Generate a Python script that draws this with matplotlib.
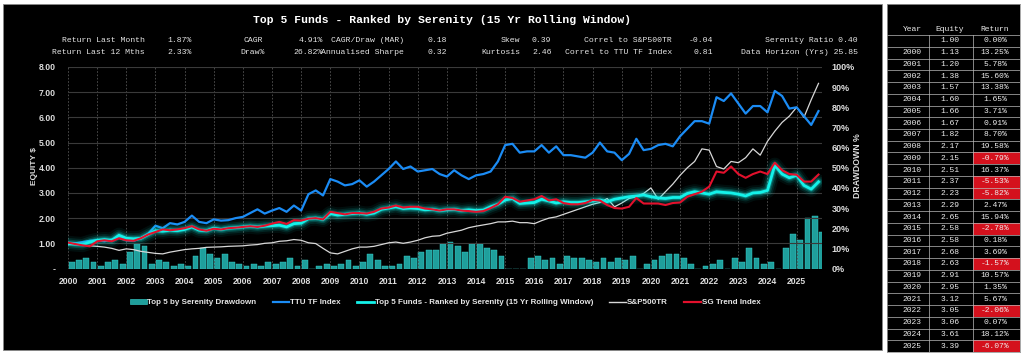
import numpy as np
import matplotlib
matplotlib.use("Agg")
import matplotlib.pyplot as plt
from matplotlib.patches import Rectangle, Patch
from matplotlib.lines import Line2D
from matplotlib.ticker import FixedLocator, FuncFormatter

# ---- chart data (quarterly readings, 2000.00 .. 2025.75) ----
t0 = 2000.0
ttu_tf = [
    1.02, 1.00, 1.05, 1.10,  1.12, 1.08, 1.15, 1.22,  1.12, 1.10, 1.20, 1.38,
    1.70, 1.60, 1.80, 1.75,  1.85, 2.10, 1.85, 1.80,  1.95, 1.90, 1.92, 2.00,
    2.05, 2.20, 2.35, 2.18,  2.30, 2.40, 2.25, 2.50,  2.30, 2.95, 3.10, 2.90,
    3.55, 3.45, 3.30, 3.35,  3.50, 3.25, 3.45, 3.70,  3.95, 4.25, 3.95, 4.05,
    3.85, 3.90, 3.95, 3.75,  3.65, 3.90, 3.70, 3.55,  3.70, 3.75, 3.85, 4.25,
    4.90, 4.95, 4.60, 4.65,  4.65, 4.90, 4.60, 4.85,  4.50, 4.50, 4.45, 4.40,
    4.60, 5.00, 4.65, 4.60,  4.30, 4.55, 5.15, 4.70,  4.75, 4.90, 4.95, 4.85,
    5.25, 5.55, 5.85, 5.85,  5.75, 6.80, 6.65, 6.95,  6.55, 6.15, 6.45, 6.45,
    6.20, 7.05, 6.85, 6.35,  6.40, 6.05, 5.70, 6.25,
]
top5 = [
    1.00, 0.97, 0.95, 1.05,  1.12, 1.15, 1.12, 1.32,  1.20, 1.18, 1.20, 1.35,
    1.50, 1.48, 1.52, 1.50,  1.55, 1.65, 1.52, 1.50,  1.60, 1.55, 1.60, 1.62,
    1.65, 1.68, 1.65, 1.68,  1.70, 1.72, 1.65, 1.78,  1.80, 1.98, 2.00, 1.95,
    2.18, 2.12, 2.15, 2.18,  2.20, 2.15, 2.20, 2.35,  2.40, 2.45, 2.38, 2.40,
    2.38, 2.33, 2.35, 2.30,  2.33, 2.35, 2.30, 2.33,  2.30, 2.32, 2.45, 2.55,
    2.72, 2.78, 2.58, 2.60,  2.62, 2.75, 2.68, 2.60,  2.65, 2.62, 2.62, 2.65,
    2.68, 2.72, 2.65, 2.75,  2.80, 2.85, 2.88, 2.92,  2.85, 2.80, 2.78, 2.82,
    2.82, 2.98, 3.05, 3.00,  2.95, 3.05, 3.02, 3.00,  2.95, 2.88, 3.00, 3.02,
    3.10, 4.10, 3.75, 3.60,  3.70, 3.30, 3.15, 3.44,
]
sg_trend = [
    1.03, 0.97, 0.92, 0.88,  1.08, 1.12, 1.08, 1.20,  1.12, 1.10, 1.20, 1.35,
    1.45, 1.55, 1.52, 1.55,  1.60, 1.68, 1.55, 1.50,  1.58, 1.55, 1.60, 1.62,
    1.65, 1.68, 1.65, 1.70,  1.78, 1.85, 1.77, 1.92,  1.90, 1.98, 2.00, 1.95,
    2.25, 2.20, 2.15, 2.20,  2.20, 2.18, 2.25, 2.38,  2.42, 2.50, 2.42, 2.45,
    2.45, 2.38, 2.35, 2.30,  2.35, 2.35, 2.30, 2.28,  2.25, 2.28, 2.40, 2.55,
    2.85, 2.80, 2.65, 2.70,  2.75, 2.88, 2.70, 2.75,  2.60, 2.55, 2.55, 2.60,
    2.72, 2.70, 2.52, 2.40,  2.38, 2.45, 2.80, 2.58,  2.58, 2.58, 2.52, 2.60,
    2.62, 2.85, 2.95, 3.05,  3.25, 3.85, 3.80, 4.05,  3.75, 3.60, 3.75, 3.85,
    3.75, 4.20, 3.90, 3.75,  3.72, 3.45, 3.45, 3.73,
]
sp500tr = [
    0.95, 0.95, 0.93, 0.90,  0.88, 0.85, 0.80, 0.72,  0.78, 0.75, 0.68, 0.64,
    0.60, 0.58, 0.65, 0.70,  0.75, 0.78, 0.80, 0.84,  0.85, 0.86, 0.88, 0.89,
    0.90, 0.93, 0.95, 1.00,  1.02, 1.08, 1.10, 1.15,  1.12, 1.02, 0.99, 0.80,
    0.62, 0.58, 0.68, 0.78,  0.85, 0.85, 0.88, 0.95,  1.02, 1.05, 1.00, 1.05,
    1.12, 1.22, 1.28, 1.30,  1.40, 1.46, 1.52, 1.62,  1.68, 1.73, 1.78, 1.85,
    1.85, 1.88, 1.82, 1.82,  1.78, 1.90, 2.00, 2.05,  2.15, 2.25, 2.35, 2.45,
    2.55, 2.62, 2.78, 2.45,  2.60, 2.78, 2.85, 2.98,  3.20, 2.75, 3.05, 3.35,
    3.70, 4.00, 4.25, 4.75,  4.70, 4.05, 3.95, 4.25,  4.20, 4.40, 4.75, 4.50,
    5.05, 5.45, 5.80, 6.05,  6.40, 6.00, 6.70, 7.35,
]
drawdown_pct = [
    3, 4, 5, 3,  1, 3, 4, 2,  8, 12, 11, 2,  4, 3, 1, 2,  1, 6, 10, 7,
    5, 7, 3, 2,  1, 2, 1, 3,  2, 3, 5, 1,  4, 0, 1, 2,  1, 2, 4, 1,
    3, 7, 4, 1,  1, 2, 6, 5,  8, 9, 9, 12,  13, 11, 8, 12,  12, 10, 9, 6,
    0, 0, 0, 5,  6, 4, 5, 2,  6, 5, 5, 4,  3, 5, 3, 5,  4, 6, 0, 2,
    4, 6, 7, 7,  5, 2, 0, 1,  2, 4, 0, 5,  3, 10, 5, 2,  3, 0, 10, 17,
    14, 25, 26, 18,
]
dates = t0 + 0.25 * np.arange(len(top5))

# ---- header statistics ----
stats_a = [("Return Last Month", "1.87%"), ("Return Last 12 Mths", "2.33%")]
stats_b = [("CAGR", "4.91%"), ("Draw%", "26.82%")]
stats_c = [("CAGR/Draw (MAR)", "0.18"), ("Annualised Sharpe", "0.32")]
stats_d = [("Skew", "0.39"), ("Kurtosis", "2.46")]
stats_e = [("Correl to S&P500TR", "-0.04"), ("Correl to TTU TF Index", "0.81")]
stats_f = ["Serenity Ratio 0.40", "Data Horizon (Yrs) 25.85"]

# ---- yearly table ----
tbl_years = [""] + [str(y) for y in range(2000, 2026)]
tbl_equity = [1.00, 1.13, 1.20, 1.38, 1.57, 1.60, 1.66, 1.67, 1.82, 2.17, 2.15,
              2.51, 2.37, 2.23, 2.29, 2.65, 2.58, 2.58, 2.68, 2.63, 2.91, 2.95,
              3.12, 3.05, 3.06, 3.61, 3.39]
tbl_return = [0.00, 13.25, 5.78, 15.60, 13.38, 1.65, 3.71, 0.91, 8.70, 19.58,
              -0.79, 16.37, -5.53, -5.82, 2.47, 15.94, -2.78, 0.18, 3.69, -1.57,
              10.57, 1.35, 5.67, -2.06, 0.07, 18.12, -6.07]

W, H = 1024, 354
MONO = "Liberation Mono"
SANS = "Liberation Sans"
C_CYAN = "#14f2ea"
C_BLUE = "#1b8cf5"
C_RED = "#e3102c"
C_WHITE = "#d8d8d8"
C_BAR = "#1f9f9c"


def fx(px):
    return px / W


def fy(py):
    return 1 - py / H


fig = plt.figure(figsize=(W / 100, H / 100), dpi=100, facecolor="white")

# black panel behind the chart (zorder below the axes)
fig.patches.append(Rectangle((fx(3), fy(350)), fx(879), (350 - 4) / H,
                             transform=fig.transFigure, facecolor="black",
                             edgecolor="#888888", lw=0.6, zorder=-5))

# title and statistics
fig.text(fx(442), fy(20), "Top 5 Funds - Ranked by Serenity (15 Yr Rolling Window)",
         family=MONO, fontsize=8.2, fontweight="bold", color="white",
         ha="center", va="center")
rows_y = [40, 52.5]
for i, yy in enumerate(rows_y):
    kw = dict(family=MONO, fontsize=5.9, color="#e6e6e6", va="center")
    fig.text(fx(145), fy(yy), stats_a[i][0], ha="right", **kw)
    fig.text(fx(167), fy(yy), stats_a[i][1], ha="left", **kw)
    fig.text(fx(253), fy(yy), stats_b[i][0], ha="center", **kw)
    fig.text(fx(323), fy(yy), stats_b[i][1], ha="right", **kw)
    fig.text(fx(404), fy(yy), stats_c[i][0], ha="right", **kw)
    fig.text(fx(427), fy(yy), stats_c[i][1], ha="left", **kw)
    fig.text(fx(520), fy(yy), stats_d[i][0], ha="right", **kw)
    fig.text(fx(532), fy(yy), stats_d[i][1], ha="left", **kw)
    fig.text(fx(672), fy(yy), stats_e[i][0], ha="right", **kw)
    fig.text(fx(713), fy(yy), stats_e[i][1], ha="right", **kw)
    fig.text(fx(858), fy(yy), stats_f[i], ha="right", **kw)

# main chart: drawdown bars on the right axis, equity lines on the left
ax = fig.add_axes([fx(68), fy(268.5), fx(822 - 68), (268.5 - 67) / H])
ax.set_facecolor("black")
ax2 = ax.twinx()
ax.set_zorder(2)
ax.patch.set_visible(False)

ax2.bar(dates + 0.125, drawdown_pct, width=0.2, color=C_BAR,
        edgecolor="#3ad6d2", linewidth=0.3, zorder=1)
ax2.set_ylim(0, 100)

ax.plot(dates, sp500tr, color=C_WHITE, lw=0.9, zorder=3)
ax.plot(dates, ttu_tf, color=C_BLUE, lw=1.6, zorder=4)
for lw, a in [(11, 0.06), (8, 0.10), (5.5, 0.18), (3.5, 0.3)]:
    ax.plot(dates, top5, color=C_CYAN, lw=lw, alpha=a, zorder=5,
            solid_capstyle="round", solid_joinstyle="round")
ax.plot(dates, top5, color=C_CYAN, lw=2.0, zorder=6)
ax.plot(dates, sg_trend, color=C_RED, lw=1.5, zorder=7)

ax.set_xlim(2000, 2025.87)
ax.set_ylim(0, 8)
ax2.set_xlim(2000, 2025.87)

ax.xaxis.set_major_locator(FixedLocator(range(2000, 2026)))
ax.yaxis.set_major_locator(FixedLocator(range(0, 9)))
ax.yaxis.set_major_formatter(FuncFormatter(lambda v, p: "-" if v == 0 else f"{v:.2f}"))
ax2.yaxis.set_major_locator(FixedLocator(range(0, 101, 10)))
ax2.yaxis.set_major_formatter(FuncFormatter(lambda v, p: f"{int(v)}%"))

ax.grid(axis="y", color="#3a3a3a", lw=0.8, ls="-")
ax.grid(axis="x", color="#555555", lw=0.6, ls=(0, (2, 2)))
for a_ in (ax, ax2):
    for s in a_.spines.values():
        s.set_visible(False)
ax.tick_params(axis="both", length=0, colors="#dddddd", labelsize=6.2)
ax.tick_params(axis="y", pad=9)
ax.tick_params(axis="x", pad=6)
ax2.tick_params(axis="y", length=0, colors="#dddddd", labelsize=6.5, pad=7)
for lab in ax.get_xticklabels() + ax.get_yticklabels() + ax2.get_yticklabels():
    lab.set_fontfamily(SANS)
    lab.set_fontweight("bold")

fig.text(fx(35), fy(166), "EQUITY $", rotation=90, family=SANS, fontsize=6,
         fontweight="bold", color="#dddddd", ha="center", va="center")
fig.text(fx(858), fy(166), "DRAWDOWN %", rotation=90, family=SANS, fontsize=6.3,
         fontweight="bold", color="#dddddd", ha="center", va="center")

handles = [
    Patch(facecolor=C_BAR, edgecolor="#3ad6d2", lw=0.4),
    Line2D([], [], color=C_BLUE, lw=1.6),
    Line2D([], [], color=C_CYAN, lw=2.0),
    Line2D([], [], color=C_WHITE, lw=1.0),
    Line2D([], [], color=C_RED, lw=1.6),
]
labels = ["Top 5 by Serenity Drawdown", "TTU TF Index",
          "Top 5 Funds - Ranked by Serenity (15 Yr Rolling Window)",
          "S&P500TR", "SG Trend Index"]
leg = fig.legend(handles, labels, loc="center", bbox_to_anchor=(fx(445), fy(302.5)),
                 ncol=5, frameon=False, handlelength=2.1, handleheight=0.6,
                 handletextpad=0.1, columnspacing=2.0,
                 prop={"family": SANS, "weight": "bold", "size": 5.8})
for t in leg.get_texts():
    t.set_color("#e6e6e6")

# yearly table
tx = fig.add_axes([fx(887), fy(352), fx(1020 - 887), (352 - 4) / H])
tx.set_facecolor("black")
tx.set_xlim(887, 1020)
n_rows = len(tbl_years) + 1
row_h = 11.73
tx.set_ylim(29.2 + row_h * (n_rows - 0.5), 4)
tx.set_xticks([])
tx.set_yticks([])
for s in tx.spines.values():
    s.set_color("#999999")
    s.set_linewidth(0.6)

col_x = [912, 950, 995]
col_edges = [887, 929, 973, 1020]
tkw = dict(family=MONO, fontsize=5.8, color="#eeeeee", ha="center", va="center")
hy = 29.2
for x, h in zip(col_x, ["Year", "Equity", "Return"]):
    tx.text(x, hy, h, **tkw)
for i in range(len(tbl_years)):
    yc = 29.2 + row_h * (i + 1)
    if tbl_return[i] < 0:
        tx.add_patch(Rectangle((col_edges[2], yc - row_h / 2), col_edges[3] - col_edges[2],
                               row_h, facecolor="#d4111d", edgecolor="none", zorder=1))
    tx.text(col_x[0], yc, tbl_years[i], zorder=3, **tkw)
    tx.text(col_x[1], yc, f"{tbl_equity[i]:.2f}", zorder=3, **tkw)
    tx.text(col_x[2], yc, f"{tbl_return[i]:.2f}%", zorder=3, **tkw)
for i in range(n_rows):
    yb = 29.2 + row_h * (i + 0.5)
    tx.plot([887, 1020], [yb, yb], color="#bbbbbb", lw=0.5, zorder=2)
top_line = 29.2 + row_h * 0.5
for xe in col_edges[1:3]:
    tx.plot([xe, xe], [top_line, 29.2 + row_h * (n_rows - 0.5)],
            color="#bbbbbb", lw=0.5, zorder=2)

fig.savefig("out.png", dpi=100, facecolor="white")
